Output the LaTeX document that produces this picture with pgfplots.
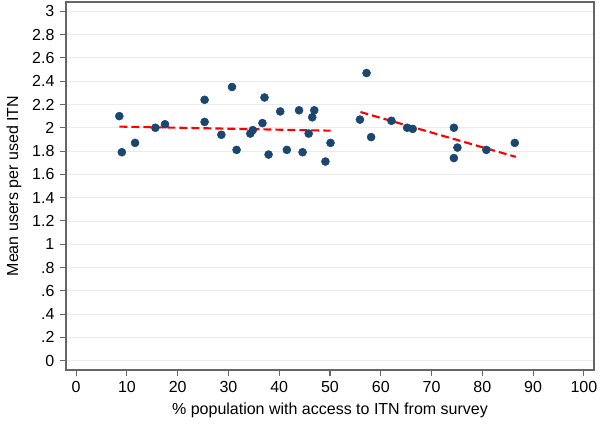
\documentclass[border=0pt]{standalone}
\usepackage{fontspec}
\setmainfont{Liberation Sans}
\usepackage{pgfplots}
\pgfplotsset{compat=1.18}
\definecolor{stblue}{HTML}{1A476F}
\definecolor{stred}{HTML}{FF0000}
\begin{document}
\fontsize{12}{14}\selectfont
\begin{tikzpicture}
\begin{axis}[
  scale only axis, width=396pt, height=276pt,
  xmin=-2, xmax=102, ymin=-0.08, ymax=3.08,
  xtick={0,10,20,30,40,50,60,70,80,90,100},
  ytick={0,0.2,0.4,0.6,0.8,1,1.2,1.4,1.6,1.8,2,2.2,2.4,2.6,2.8,3},
  yticklabels={0,.2,.4,.6,.8,1,1.2,1.4,1.6,1.8,2,2.2,2.4,2.6,2.8,3},
  tick align=outside, major tick length=4.5pt,
  xtick pos=bottom, ytick pos=left,
  axis line style={black!60, line width=0.8pt},
  tick style={black!60, line width=0.8pt},
  ymajorgrids, grid style={black!8, line width=0.6pt},
  /pgf/number format/assume math mode=true,
  ticklabel style={font=\fontsize{12}{14}\selectfont},
  label style={font=\fontsize{12}{14}\selectfont},
  xlabel={\% population with access to ITN from survey},
  ylabel={Mean users per used ITN},
  xlabel style={at={(axis description cs:0.5,-0.1087)}, anchor=center},
  ylabel style={at={(axis description cs:-0.0985,0.5)}, anchor=center},
  clip=false,
]
\addplot[only marks, mark=*, mark size=3pt, mark options={fill=stblue, draw=stblue}] coordinates {
(8.5,2.10) (9.0,1.79) (11.6,1.87) (15.6,2.00) (17.5,2.03)
(25.3,2.24) (25.3,2.05) (28.6,1.94) (30.7,2.35) (31.6,1.81)
(34.3,1.95) (34.8,1.98) (36.7,2.04) (37.1,2.26) (37.9,1.77)
(40.2,2.14) (41.5,1.81) (43.9,2.15) (44.6,1.79) (45.8,1.95)
(46.5,2.09) (46.9,2.15) (49.1,1.71) (50.1,1.87)
(55.9,2.07) (57.2,2.47) (58.1,1.92) (62.1,2.06) (65.2,2.00)
(66.3,1.99) (74.4,2.00) (75.1,1.83) (74.4,1.74) (80.8,1.81)
(86.4,1.87)
};
\addplot[stred, line width=1.6pt, dash pattern=on 6pt off 3pt] coordinates {(8.5,2.01) (50.1,1.975)};
\addplot[stred, line width=1.6pt, dash pattern=on 6pt off 3pt] coordinates {(56.0,2.135) (86.6,1.75)};
\end{axis}
\pgfresetboundingbox
\path[use as bounding box] ([shift={(-49.5pt,-42pt)}]current axis.south west) rectangle ([shift={(4.5pt,1.5pt)}]current axis.north east);
\end{tikzpicture}
\end{document}
